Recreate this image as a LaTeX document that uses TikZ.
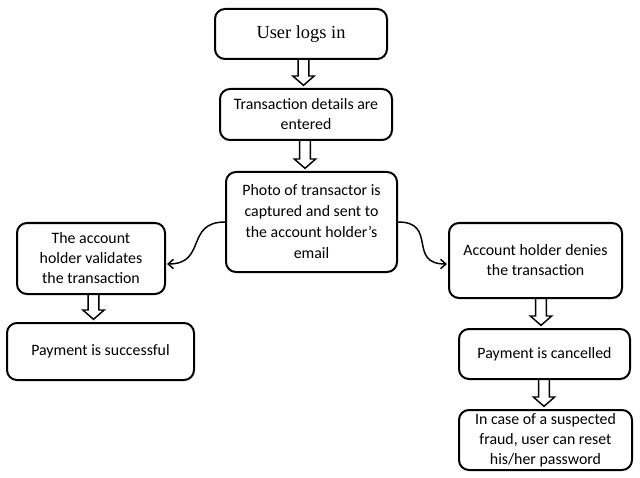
\documentclass[tikz,border=0pt]{standalone}
\usepackage{fontspec}
\setmainfont{Carlito}
\newfontfamily\titlefont{Liberation Serif}
\usetikzlibrary{calc,arrows.meta}
\tikzset{
  box/.style={draw, line width=1.5pt, rounded corners=7.5pt, align=center,
    font=\fontsize{11.9}{15}\selectfont, inner sep=0pt},
  blockarr/.style={draw, line width=1.1pt, line join=miter},
  curvearr/.style={draw, line width=1.1pt, -{Straight Barb[length=4pt,width=7pt,line width=1.1pt]}},
}
\newcommand\blockarrow[3]{%
  \path[blockarr] let \p1=(#1.south), \p2=(#2.north) in
    ({#3*0.75pt-4pt},\y1) -- ({#3*0.75pt-4pt},\y2+9pt) -- ({#3*0.75pt-8pt},\y2+9pt)
    -- ({#3*0.75pt},\y2+2pt) -- ({#3*0.75pt+8pt},\y2+9pt) -- ({#3*0.75pt+4pt},\y2+9pt)
    -- ({#3*0.75pt+4pt},\y1);}
\begin{document}
\begin{tikzpicture}[x=0.75pt,y=-0.75pt]
\useasboundingbox (0,0) rectangle (640,478);
\node[box, minimum width=129pt, minimum height=37.5pt, font=\titlefont\fontsize{13.8}{15}\selectfont] (u) at (301,34) {User logs in};
\node[box, minimum width=129pt, minimum height=38.25pt] (t) at (306,114.5) {Transaction details are\\entered};
\node[box, minimum width=128.25pt, minimum height=75pt, font=\fontsize{11.9}{15.75}\selectfont] (p) at (311.5,222) {Photo of transactor is\\captured and sent to\\the account holder’s\\email};
\node[box, minimum width=111pt, minimum height=53.25pt] (v) at (91,258.5) {The account\\holder validates\\the transaction};
\node[box, minimum width=140.25pt, minimum height=42.75pt] (s) at (100.5,351.5) {Payment is successful};
\node[box, minimum width=129.75pt, minimum height=56.25pt] (d) at (535.5,260.5) {Account holder denies\\the transaction};
\node[box, minimum width=128.25pt, minimum height=37.5pt] (c) at (544.5,354) {Payment is cancelled};
\node[box, minimum width=129.75pt, minimum height=45pt] (f) at (545.5,440) {In case of a suspected\\fraud, user can reset\\his/her password};
\blockarrow{u}{t}{303.5}
\blockarrow{t}{p}{305}
\blockarrow{v}{s}{93.5}
\blockarrow{d}{c}{541}
\blockarrow{c}{f}{544}
\path[curvearr] (p.west) .. controls +(-40,0) and +(40,0) .. ($(v.east)+(1,5.5)$);
\path[curvearr] (p.east) .. controls +(40,0) and +(-40,0) .. ($(d.west)+(-1,3.5)$);
\end{tikzpicture}
\end{document}
